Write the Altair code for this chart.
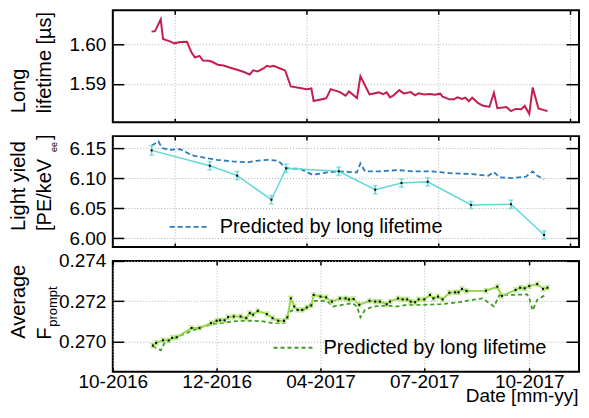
import altair as alt
import pandas as pd

FONT = "Liberation Sans"

# ---------------- data ----------------
lt_dates = ["2016-11-04", "2016-11-07", "2016-11-12", "2016-11-14", "2016-11-20", "2016-11-24",
            "2016-11-29", "2016-12-05", "2016-12-09", "2016-12-12", "2016-12-16", "2016-12-19",
            "2016-12-24", "2016-12-27", "2017-01-01", "2017-01-06", "2017-01-12", "2017-01-18",
            "2017-01-24", "2017-01-29", "2017-02-01", "2017-02-05", "2017-02-10", "2017-02-13",
            "2017-02-16", "2017-02-19", "2017-02-23", "2017-03-01", "2017-03-06", "2017-03-14",
            "2017-03-20", "2017-03-24", "2017-03-26", "2017-04-06", "2017-04-10", "2017-04-18",
            "2017-04-23", "2017-04-26", "2017-05-03", "2017-05-06", "2017-05-14", "2017-05-22",
            "2017-05-26", "2017-05-29", "2017-06-01", "2017-06-04", "2017-06-09", "2017-06-13",
            "2017-06-19", "2017-06-23", "2017-06-26", "2017-07-01", "2017-07-06", "2017-07-10",
            "2017-07-15", "2017-07-17", "2017-07-23", "2017-07-27", "2017-07-30", "2017-08-03",
            "2017-08-06", "2017-08-09", "2017-08-12", "2017-08-17", "2017-08-21", "2017-08-27",
            "2017-08-31", "2017-09-03", "2017-09-11", "2017-09-15", "2017-09-19", "2017-09-24",
            "2017-09-27", "2017-10-01", "2017-10-04", "2017-10-09", "2017-10-17"]
lt_values = [1.60325, 1.60333, 1.60633, 1.60133, 1.60075, 1.60025,
             1.60058, 1.60065, 1.59790, 1.59665, 1.59708, 1.59590,
             1.59583, 1.59558, 1.59483, 1.59465, 1.59408, 1.59358,
             1.59300, 1.59233, 1.59340, 1.59315, 1.59390, 1.59458,
             1.59433, 1.59458, 1.59408, 1.59340, 1.58933, 1.58895,
             1.58865, 1.58883, 1.58565, 1.58633, 1.58865, 1.58790,
             1.58700, 1.58808, 1.58640, 1.59190, 1.58733, 1.58783,
             1.58740, 1.58783, 1.58658, 1.58708, 1.58840, 1.58758,
             1.58790, 1.58708, 1.58758, 1.58733, 1.58740, 1.58725,
             1.58750, 1.58675, 1.58608, 1.58608, 1.58658, 1.58615,
             1.58650, 1.58558, 1.58650, 1.58515, 1.58450, 1.58415,
             1.58775, 1.58383, 1.58415, 1.58308, 1.58365, 1.58358,
             1.58440, 1.58240, 1.58908, 1.58375, 1.58308]

ly_dates = ["2016-11-04", "2016-12-25", "2017-01-18", "2017-02-17", "2017-03-02", "2017-04-17",
            "2017-05-19", "2017-06-11", "2017-07-04", "2017-08-11", "2017-09-15", "2017-10-14"]
ly_values = [6.1467, 6.1210, 6.1045, 6.0643, 6.1167, 6.1117,
             6.0810, 6.0922, 6.0943, 6.0555, 6.0567, 6.0055]
ly_errors = [0.008, 0.007, 0.007, 0.007, 0.007, 0.007,
             0.007, 0.007, 0.007, 0.006, 0.007, 0.007]

lyp_dates = ["2016-11-04", "2016-11-10", "2016-11-13", "2016-11-20", "2016-11-29", "2016-12-09",
             "2016-12-19", "2016-12-31", "2017-01-14", "2017-01-27", "2017-02-04", "2017-02-14",
             "2017-02-23", "2017-03-02", "2017-03-14", "2017-03-25", "2017-04-07", "2017-04-17",
             "2017-05-03", "2017-05-06", "2017-05-10", "2017-05-23", "2017-06-08", "2017-06-21",
             "2017-07-08", "2017-07-26", "2017-08-12", "2017-08-26", "2017-08-31", "2017-09-05",
             "2017-09-16", "2017-09-28", "2017-10-04", "2017-10-08", "2017-10-14"]
lyp_values = [6.1543, 6.1617, 6.1505, 6.1477, 6.1488, 6.1388,
              6.1350, 6.1310, 6.1283, 6.1267, 6.1293, 6.1310,
              6.1293, 6.1167, 6.1160, 6.1060, 6.1100, 6.1117,
              6.1100, 6.1250, 6.1117, 6.1117, 6.1138, 6.1117,
              6.1117, 6.1083, 6.1072, 6.1043, 6.1105, 6.1017,
              6.1005, 6.1027, 6.1117, 6.1043, 6.0988]

fp_dates = ["2016-11-05", "2016-11-08", "2016-11-14", "2016-11-19", "2016-11-22", "2016-11-26",
            "2016-12-09", "2016-12-16", "2016-12-26", "2016-12-31", "2017-01-03", "2017-01-07",
            "2017-01-10", "2017-01-15", "2017-01-21", "2017-01-26", "2017-01-29", "2017-02-01",
            "2017-02-05", "2017-02-13", "2017-02-18", "2017-02-23", "2017-02-28", "2017-03-03",
            "2017-03-06", "2017-03-09", "2017-03-12", "2017-03-16", "2017-03-20", "2017-03-24",
            "2017-03-26", "2017-04-01", "2017-04-06", "2017-04-11", "2017-04-18", "2017-04-23",
            "2017-04-26", "2017-04-30", "2017-05-05", "2017-05-14", "2017-05-19", "2017-05-23",
            "2017-05-29", "2017-06-01", "2017-06-08", "2017-06-12", "2017-06-16", "2017-06-19",
            "2017-06-23", "2017-06-26", "2017-07-01", "2017-07-06", "2017-07-09", "2017-07-13",
            "2017-07-17", "2017-07-23", "2017-07-28", "2017-07-31", "2017-08-03", "2017-08-07",
            "2017-08-24", "2017-09-03", "2017-09-07", "2017-09-19", "2017-09-23", "2017-09-27",
            "2017-10-01", "2017-10-08", "2017-10-13", "2017-10-17"]
fp_values = [0.26980, 0.26993, 0.27006, 0.27005, 0.27018, 0.27021,
             0.27067, 0.27067, 0.27091, 0.27103, 0.27105, 0.27105,
             0.27121, 0.27124, 0.27124, 0.27116, 0.27141, 0.27133,
             0.27152, 0.27136, 0.27116, 0.27103, 0.27103, 0.27120,
             0.27214, 0.27174, 0.27157, 0.27157, 0.27169, 0.27179,
             0.27231, 0.27223, 0.27219, 0.27198, 0.27214, 0.27214,
             0.27209, 0.27211, 0.27182, 0.27202, 0.27198, 0.27198,
             0.27185, 0.27198, 0.27214, 0.27209, 0.27209, 0.27198,
             0.27195, 0.27209, 0.27209, 0.27231, 0.27214, 0.27223,
             0.27209, 0.27242, 0.27244, 0.27244, 0.27261, 0.27251,
             0.27252, 0.27272, 0.27226, 0.27256, 0.27267, 0.27264,
             0.27275, 0.27285, 0.27261, 0.27267]
fp_error = 0.0001

fpp_dates = ["2016-11-05", "2016-11-08", "2016-11-12", "2016-11-16", "2016-11-23", "2016-12-01",
             "2016-12-17", "2016-12-28", "2017-01-09", "2017-01-21", "2017-02-01", "2017-02-10",
             "2017-02-18", "2017-02-28", "2017-03-03", "2017-03-06", "2017-03-10", "2017-03-17",
             "2017-03-20", "2017-03-27", "2017-04-01", "2017-04-07", "2017-04-12", "2017-04-20",
             "2017-04-29", "2017-05-03", "2017-05-06", "2017-05-10", "2017-05-17", "2017-05-30",
             "2017-06-07", "2017-06-16", "2017-06-30", "2017-07-15", "2017-08-01", "2017-08-12",
             "2017-08-21", "2017-08-31", "2017-09-05", "2017-09-16", "2017-09-29", "2017-10-01",
             "2017-10-04", "2017-10-08", "2017-10-16"]
fpp_values = [0.26977, 0.26968, 0.26956, 0.27000, 0.27015, 0.27034,
              0.27070, 0.27087, 0.27096, 0.27103, 0.27103, 0.27100,
              0.27091, 0.27091, 0.27124, 0.27152, 0.27157, 0.27157,
              0.27165, 0.27202, 0.27202, 0.27199, 0.27174, 0.27182,
              0.27190, 0.27174, 0.27120, 0.27157, 0.27174, 0.27178,
              0.27174, 0.27182, 0.27182, 0.27185, 0.27195, 0.27207,
              0.27214, 0.27174, 0.27231, 0.27231, 0.27234, 0.27214,
              0.27154, 0.27207, 0.27234]

legend_label = "Predicted by long lifetime"

# ---------------- tables ----------------
lt_df = pd.DataFrame({"date": lt_dates, "v": lt_values})
ly_df = pd.DataFrame({"date": ly_dates, "v": ly_values, "e": ly_errors})
ly_df["lo"] = ly_df["v"] - ly_df["e"]
ly_df["hi"] = ly_df["v"] + ly_df["e"]
lyp_df = pd.DataFrame({"date": lyp_dates, "v": lyp_values, "s": legend_label})
fp_df = pd.DataFrame({"date": fp_dates, "v": fp_values})
fp_df["lo"] = fp_df["v"] - fp_error
fp_df["hi"] = fp_df["v"] + fp_error
fpp_df = pd.DataFrame({"date": fpp_dates, "v": fpp_values, "s": legend_label})

# ---------------- styling helpers ----------------
W = 467
H1, H2, H3 = 112, 111, 111
GRID = dict(grid=True, gridColor="#b0b0b0", gridDash=[1, 2], gridWidth=1)


def dt(y, m, d, h=0):
    return alt.DateTime(year=y, month=m, date=d, hours=h, utc=True)


XS = alt.Scale(type="utc", domain=[dt(2016, 10, 1), dt(2017, 11, 13, 14)], nice=False)
top_xvals = [dt(2016, 11, 24, 6), dt(2017, 3, 19, 18), dt(2017, 7, 13, 6), dt(2017, 11, 5, 18)]
bot_xvals = [dt(2016, 10, 1), dt(2016, 12, 31), dt(2017, 4, 1), dt(2017, 7, 1), dt(2017, 10, 1)]


def x_main(values, labels, title=None):
    kw = dict(orient="bottom", values=values, labels=labels, format="%m-%Y",
              domain=False, ticks=True, tickSize=4, offset=-4, tickColor="black",
              tickWidth=1.5, labelFontSize=19, labelFont=FONT, labelColor="black",
              labelPadding=1, labelFlush=False, labelOverlap=False, **GRID)
    if title:
        kw.update(title=title, titleFontSize=19, titleFont=FONT, titleFontWeight="normal",
                  titleColor="black", titleAlign="right", titleAnchor="end",
                  titleX=W - 1, titleY=34, titleBaseline="alphabetic")
    else:
        kw.update(title=None)
    return alt.Axis(**kw)


def x_top(values):
    return alt.Axis(orient="top", values=values, labels=False, grid=False, domain=False,
                    tickSize=4, offset=-4, tickColor="black", tickWidth=1.5, title=None)


def y_main(values, fmt):
    return alt.Axis(orient="left", values=values, format=fmt, domain=False, tickSize=11,
                    offset=-11, tickColor="black", tickWidth=1.5, labelFontSize=19,
                    labelFont=FONT, labelColor="black", labelPadding=7, labelFlush=False,
                    title=None, **GRID)


def y_right(values):
    return alt.Axis(orient="right", values=values, labels=False, grid=False, domain=False,
                    tickSize=13, offset=-13, tickColor="black", tickWidth=1.5, title=None)


def label(text, x, y, size=20):
    return alt.Chart(alt.Data(values=[{}])).mark_text(
        text=text, angle=270, align="left", baseline="alphabetic", fontSize=size,
        font=FONT, color="black").encode(x=alt.value(x), y=alt.value(y))


def legend(lx, ly, dash):
    return alt.Legend(orient="none", legendX=lx, legendY=ly, title=None, symbolType="stroke",
                      symbolSize=1600, symbolStrokeWidth=1.8, symbolDash=dash,
                      labelFontSize=20, labelFont=FONT, labelColor="black", labelOffset=9,
                      labelLimit=400, padding=0, rowPadding=0)


# ---------------- panel 1: long lifetime ----------------
ys1 = alt.Scale(domain=[1.5803, 1.6086], nice=False, zero=False)
yv1 = [1.59, 1.60]
p1_line = alt.Chart(lt_df).mark_line(color="#c41e4f", strokeWidth=2).encode(
    x=alt.X("date:T", scale=XS, axis=x_main(top_xvals, False)),
    y=alt.Y("v:Q", scale=ys1, axis=y_main(yv1, ".2f")))
p1_ghost = alt.Chart(lt_df).mark_line(opacity=0).encode(
    x=alt.X("date:T", scale=XS, axis=x_top(top_xvals)),
    y=alt.Y("v:Q", scale=ys1, axis=y_right(yv1)))
p1 = alt.layer(p1_line, p1_ghost,
               label("Long", -88, 103), label("lifetime [µs]", -62, 103)
               ).resolve_axis(x="independent", y="independent").properties(width=W, height=H1)

# ---------------- panel 2: light yield ----------------
ys2 = alt.Scale(domain=[5.9855, 6.1705], nice=False, zero=False)
yv2 = [6.00, 6.05, 6.10, 6.15]
cyan = "#5fd8d6"
p2_line = alt.Chart(ly_df).mark_line(color=cyan, strokeWidth=1.5).encode(
    x=alt.X("date:T", scale=XS, axis=x_main(top_xvals, False)),
    y=alt.Y("v:Q", scale=ys2, axis=y_main(yv2, ".2f")))
p2_err = alt.Chart(ly_df).mark_rule(color=cyan, strokeWidth=1.5).encode(
    x=alt.X("date:T", scale=XS, axis=None),
    y=alt.Y("lo:Q", scale=ys2, axis=None), y2="hi:Q")
p2_caplo = alt.Chart(ly_df).mark_tick(color=cyan, orient="horizontal", size=5, thickness=1.5).encode(
    x=alt.X("date:T", scale=XS, axis=None), y=alt.Y("lo:Q", scale=ys2, axis=None))
p2_caphi = alt.Chart(ly_df).mark_tick(color=cyan, orient="horizontal", size=5, thickness=1.5).encode(
    x=alt.X("date:T", scale=XS, axis=None), y=alt.Y("hi:Q", scale=ys2, axis=None))
p2_dot = alt.Chart(ly_df).mark_square(color="black", size=4, opacity=1).encode(
    x=alt.X("date:T", scale=XS, axis=None), y=alt.Y("v:Q", scale=ys2, axis=None))
p2_pred = alt.Chart(lyp_df).mark_line(strokeDash=[5, 3], strokeWidth=1.8).encode(
    x=alt.X("date:T", scale=XS, axis=x_top(top_xvals)),
    y=alt.Y("v:Q", scale=ys2, axis=y_right(yv2)),
    color=alt.Color("s:N", scale=alt.Scale(domain=[legend_label], range=["#2b7bba"]),
                    legend=legend(56, 70, [5, 3])))
p2 = alt.layer(p2_pred, p2_line, p2_err, p2_caplo, p2_caphi, p2_dot,
               label("Light yield", -88, 95), label("[PE/keV", -62, 95),
               label("ee", -56, 16, 9), label("]", -62, 4)
               ).resolve_axis(x="independent", y="independent").properties(width=W, height=H2)

# ---------------- panel 3: F_prompt ----------------
ys3 = alt.Scale(domain=[0.2685, 0.2740], nice=False, zero=False)
yv3 = [0.270, 0.272, 0.274]
green = "#98d64e"
p3_line = alt.Chart(fp_df).mark_line(color=green, strokeWidth=2).encode(
    x=alt.X("date:T", scale=XS, axis=x_main(bot_xvals, True, "Date [mm-yy]")),
    y=alt.Y("v:Q", scale=ys3, axis=y_main(yv3, ".3f")))
p3_err = alt.Chart(fp_df).mark_rule(color="#a9e06a", strokeWidth=1.5).encode(
    x=alt.X("date:T", scale=XS, axis=None),
    y=alt.Y("lo:Q", scale=ys3, axis=None), y2="hi:Q")
p3_caplo = alt.Chart(fp_df).mark_tick(color="#a9e06a", orient="horizontal", size=5, thickness=1.5).encode(
    x=alt.X("date:T", scale=XS, axis=None), y=alt.Y("lo:Q", scale=ys3, axis=None))
p3_caphi = alt.Chart(fp_df).mark_tick(color="#a9e06a", orient="horizontal", size=5, thickness=1.5).encode(
    x=alt.X("date:T", scale=XS, axis=None), y=alt.Y("hi:Q", scale=ys3, axis=None))
p3_dot = alt.Chart(fp_df).mark_square(color="black", size=4, opacity=1).encode(
    x=alt.X("date:T", scale=XS, axis=None), y=alt.Y("v:Q", scale=ys3, axis=None))
p3_pred = alt.Chart(fpp_df).mark_line(strokeDash=[4, 3], strokeWidth=1.8).encode(
    x=alt.X("date:T", scale=XS, axis=x_top(bot_xvals)),
    y=alt.Y("v:Q", scale=ys3, axis=y_right(yv3)),
    color=alt.Color("s:N", scale=alt.Scale(domain=[legend_label], range=["#3a9e22"]),
                    legend=legend(160, 66, [4, 3])))
p3 = alt.layer(p3_pred, p3_line, p3_err, p3_caplo, p3_caphi, p3_dot,
               label("Average", -88, 78), label("F", -62, 79), label("prompt", -56, 66, 13)
               ).resolve_axis(x="independent", y="independent").properties(width=W, height=H3)

chart = alt.vconcat(p1, p2, p3, spacing=14, bounds="flush").resolve_scale(
    x="independent", y="independent", color="independent"
).properties(
    padding={"left": 0, "top": 0, "right": 0, "bottom": 0}
).configure_view(stroke="black", strokeWidth=2)

chart.save("out.html", embed_options={"renderer": "svg", "actions": False})
